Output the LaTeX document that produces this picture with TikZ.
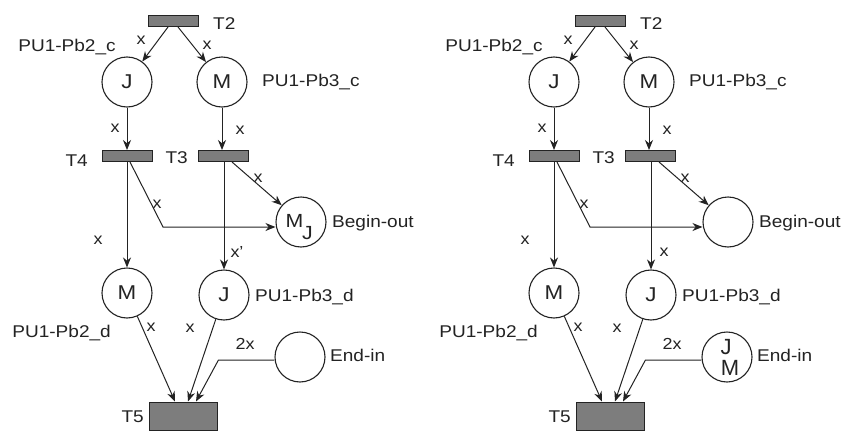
\documentclass[tikz,border=0pt]{standalone}
\usepackage{fontspec}
\setmainfont{Liberation Sans}
\usetikzlibrary{arrows.meta}
\definecolor{tgray}{RGB}{125,125,125}
\definecolor{ink}{RGB}{35,35,35}
\newcommand{\wid}[1]{\scalebox{1.12}[1]{#1}}
\newcommand{\pnpanel}[3]{%
  % transitions and places
  \node[trans] (T2) at (173,21) {};
  \node[lbl,anchor=west] (T2l) at (213,24) {\wid{T2}};
  \node[place] (JC) at (127,82) {\wid{J}};
  \node[place] (MC) at (222,82) {\wid{M}};
  \node[lbl] (JCl) at (67,47) {\wid{PU1-Pb2\_c}};
  \node[lbl,anchor=west] (MCl) at (262,82) {\wid{PU1-Pb3\_c}};
  \node[trans] (T4) at (127,156) {};
  \node[trans] (T3) at (223,156) {};
  \node[lbl,anchor=east] (T4l) at (88,161) {\wid{T4}};
  \node[lbl,anchor=east] (T3l) at (188,158) {\wid{T3}};
  \node[place] (BO) at (301,222) {};
  \node[lbl,anchor=west] (BOl) at (332,223) {\wid{Begin-out}};
  \node[place] (Md) at (127,293) {\wid{M}};
  \node[place] (Jd) at (224,295) {\wid{J}};
  \node[lbl,anchor=west] (Jdl) at (255,297) {\wid{PU1-Pb3\_d}};
  \node[lbl,anchor=east] (Mdl) at (111,333) {\wid{PU1-Pb2\_d}};
  \node[place] (EI) at (300,357) {};
  \node[lbl,anchor=west] (EIl) at (330,355) {\wid{End-in}};
  \node[trans,minimum width=68pt,minimum height=28pt] (T5) at (183,416) {};
  \node[lbl,anchor=east] (T5l) at (144,417) {\wid{T5}};
  #1
  #2
  % arcs
  \draw[arc] ([xshift=-5pt]T2.south) -- (JC);
  \draw[arc] ([xshift=5pt]T2.south) -- (MC);
  \draw[arc] (JC.south) -- (JC.south |- T4.north);
  \draw[arc] (MC.south) -- (MC.south |- T3.north);
  \draw[arc] ([xshift=9pt]T3.south) -- (BO);
  \draw[arc] ([xshift=3pt]T4.south) -- ++(33,65) coordinate (B1) -- (B1 -| BO.west);
  \draw[arc] (T4.south) -- (T4.south |- Md.north);
  \draw[arc] (T3.south -| Jd) -- (Jd.north);
  \draw[arc] (Md) -- ([xshift=-8pt]T5.north);
  \draw[arc] (Jd) -- ([xshift=5pt]T5.north);
  \draw[arc] ([yshift=-3pt]EI.west) -- ++(-56,0) coordinate (B2) -- ([xshift=13pt]T5.north);
  % arc labels
  \node[xl] (a1) at (141,40) {\wid{x}};
  \node[xl] (a2) at (207,45) {\wid{x}};
  \node[xl] (a3) at (115,128) {\wid{x}};
  \node[xl] (a4) at (240,130) {\wid{x}};
  \node[xl] (a5) at (258,178) {\wid{x}};
  \node[xl] (a6) at (157,204) {\wid{x}};
  \node[xl] (a7) at (98,240) {\wid{x}};
  \node[xl] (a8) at (237,252) {\wid{#3}};
  \node[xl] (a9) at (151,327) {\wid{x}};
  \node[xl] (a10) at (190,328) {\wid{x}};
  \node[xl] (a11) at (245,344) {\wid{2x}};
}
\begin{document}
\begin{tikzpicture}[x=1pt,y=-1pt,
  trans/.style={rectangle,draw=ink,line width=1pt,fill=tgray,inner sep=0pt,minimum width=50pt,minimum height=11pt},
  place/.style={circle,draw=ink,line width=1.1pt,minimum size=50pt,inner sep=0pt,font=\fontsize{20}{22}\selectfont,text=ink},
  lbl/.style={inner sep=0pt,font=\fontsize{17}{20}\selectfont,text=ink},
  xl/.style={inner sep=0pt,font=\fontsize{16}{18}\selectfont,text=ink},
  tokf/.style={inner sep=0pt,font=\fontsize{19}{21}\selectfont,text=ink},
  bigtok/.style={inner sep=0pt,font=\fontsize{22}{24}\selectfont,text=ink},
  arc/.style={draw=ink,line width=1pt,-{Stealth[length=10pt,width=8pt]}}]
\useasboundingbox (0,0) rectangle (841,431);
\fill[white] (0,0) rectangle (841,431);
\begin{scope}[name prefix=L-]
  \pnpanel{\node[tokf] (BOm) at ([xshift=-6.5pt,yshift=1pt]BO) {\wid{M}};
           \node[tokf] (BOj) at ([xshift=6.5pt,yshift=-11pt]BO) {\wid{J}};}{}{x'}
\end{scope}
\begin{scope}[xshift=427pt,name prefix=R-]
  \pnpanel{}{\node[bigtok] (EIj) at ([xshift=-1pt,yshift=9.5pt]EI) {J};
             \node[bigtok] (EIm) at ([xshift=3pt,yshift=-10.5pt]EI) {M};}{x}
\end{scope}
\end{tikzpicture}
\end{document}
